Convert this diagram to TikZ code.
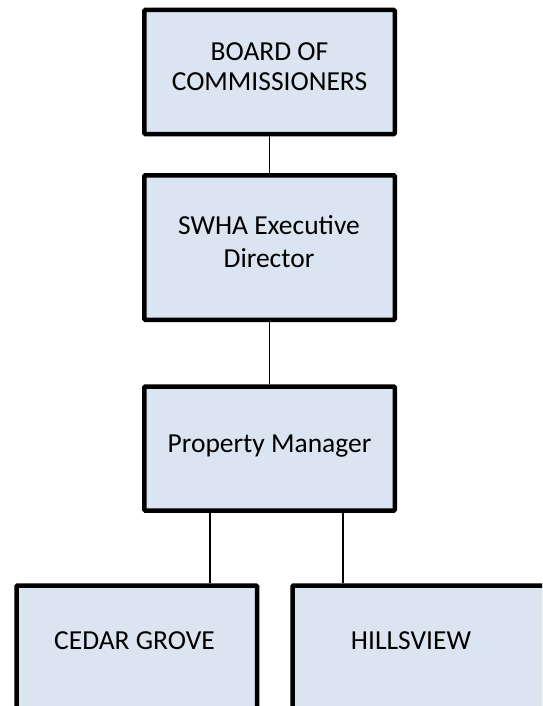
\documentclass[tikz,border=0pt]{standalone}
\usepackage{fontspec}
\setmainfont{Carlito}
\usetikzlibrary{shadows}
\definecolor{boxblue}{RGB}{219,229,241}
\tikzset{
  orgbox/.style={draw=black, line width=4.5pt, fill=boxblue, rounded corners=1pt,
    drop shadow={shadow xshift=1.5pt, shadow yshift=-2pt, opacity=0.25, fill=black}},
  conn/.style={draw=black, line width=1.8pt},
  lbl/.style={anchor=base, align=center, inner sep=0pt, font=\fontsize{27.5}{30}\selectfont}
}
\begin{document}
\begin{tikzpicture}[x=1pt,y=-1pt]
\useasboundingbox (0,0) rectangle (542,706);
\clip (0,0) rectangle (542,706);
% connector tap positions
\coordinate (tapL) at (210,0);
\coordinate (tapR) at (343,0);
% boxes
\node[orgbox, minimum width=250.5pt, minimum height=124pt] (b1) at (269.5,72) {};
\node[orgbox, minimum width=250.5pt, minimum height=144.5pt] (b2) at (269.5,247.5) {};
\node[orgbox, minimum width=250.5pt, minimum height=124pt] (b3) at (269.5,448.5) {};
\node[orgbox, minimum width=240.5pt, minimum height=140pt, anchor=north west] (b4) at (14.25,583.25) {};
\node[orgbox, minimum width=280pt, minimum height=140pt, anchor=north west] (b5) at (290.25,583.25) {};
% connectors
\draw[conn] (b1.south) -- (b2.north);
\draw[conn] (b2.south) -- (b3.north);
\draw[conn] (b3.south -| tapL) -- (b4.north -| tapL);
\draw[conn] (b3.south -| tapR) -- (b5.north -| tapR);
% texts
\node[lbl] (t1) at (269.5,91) {BOARD OF\\COMMISSIONERS};
\node[lbl, font=\fontsize{27.5}{33}\selectfont] (t2) at (269,267) {SWHA Executive\\Director};
\node[lbl] (t3) at (269.5,452) {Property Manager};
\node[lbl] (t4) at (134.5,649) {CEDAR GROVE};
\node[lbl] (t5) at (411,649) {HILLSVIEW};
\end{tikzpicture}
\end{document}
